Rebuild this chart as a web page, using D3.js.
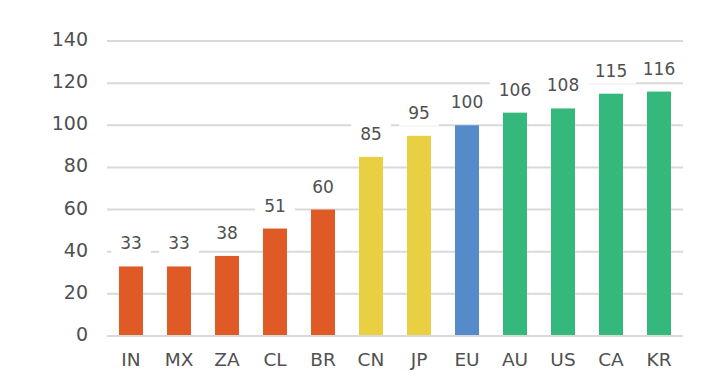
<!DOCTYPE html>
<html lang="en">
<head>
    <meta charset="UTF-8">
    <script src="https://d3js.org/d3.v7.min.js"></script>
    <title>Chart</title>
    <style>
        body { margin: 0; background: #fff; }
        text { font-family: "DejaVu Sans", Verdana, sans-serif; fill: #505050; }
    </style>
</head>
<body>
<div id="chart"></div>
<script>
    const categories = ["IN", "MX", "ZA", "CL", "BR", "CN", "JP", "EU", "AU", "US", "CA", "KR"]
    const values = [33, 33, 38, 51, 60, 85, 95, 100, 106, 108, 115, 116]
    const groups = ["low", "low", "low", "low", "low", "mid", "mid", "eu", "high", "high", "high", "high"]
    const yTicks = [0, 20, 40, 60, 80, 100, 120, 140]

    const colors = {low: "#E05A26", mid: "#E8D042", eu: "#568BC9", high: "#34B87C"}

    const width = 715
    const height = 377
    const plotLeft = 107, plotRight = 683, plotTop = 41, plotBottom = 336

    const data = categories.map((c, i) => ({cat: c, value: values[i], group: groups[i]}))

    const x = d3.scaleBand().domain(categories).range([plotLeft, plotRight]).paddingInner(0.5).paddingOuter(0.25)
    const y = d3.scaleLinear().domain([0, 140]).range([plotBottom, plotTop])

    const svg = d3.select("#chart").append("svg")
        .attr("width", width)
        .attr("height", height)

    // gridlines
    svg.append("g").selectAll("line")
        .data(yTicks)
        .join("line")
        .attr("x1", plotLeft)
        .attr("x2", plotRight)
        .attr("y1", d => y(d))
        .attr("y2", d => y(d))
        .attr("stroke", "#d9d9d9")
        .attr("stroke-width", 2)

    // y tick labels
    svg.append("g").selectAll("text")
        .data(yTicks)
        .join("text")
        .attr("x", 88)
        .attr("y", d => y(d) + 5)
        .attr("text-anchor", "end")
        .attr("font-size", 19)
        .text(d => d)

    // label boxes + labels (boxes hide the gridlines behind the numbers)
    const labels = svg.append("g").selectAll("g")
        .data(data)
        .join("g")
    labels.append("rect").attr("fill", "#fff")
    labels.append("text")
        .attr("x", d => x(d.cat) + x.bandwidth() / 2)
        .attr("y", d => y(d.value) - 17)
        .attr("text-anchor", "middle")
        .attr("font-size", 17)
        .text(d => d.value)
    labels.each(function () {
        const g = d3.select(this)
        const b = g.select("text").node().getBBox()
        g.select("rect")
            .attr("x", b.x - 9)
            .attr("width", b.width + 18)
            .attr("y", b.y - 2)
            .attr("height", b.height + 5)
    })

    // bars
    svg.append("g").selectAll("rect")
        .data(data)
        .join("rect")
        .attr("x", d => x(d.cat))
        .attr("width", x.bandwidth())
        .attr("y", d => y(d.value))
        .attr("height", d => y(0) - y(d.value) - 1)
        .attr("fill", d => colors[d.group])

    // category labels
    svg.append("g").selectAll("text")
        .data(categories)
        .join("text")
        .attr("x", d => x(d) + x.bandwidth() / 2)
        .attr("y", 366)
        .attr("text-anchor", "middle")
        .attr("font-size", 18.5)
        .text(d => d)
</script>
</body>
</html>
